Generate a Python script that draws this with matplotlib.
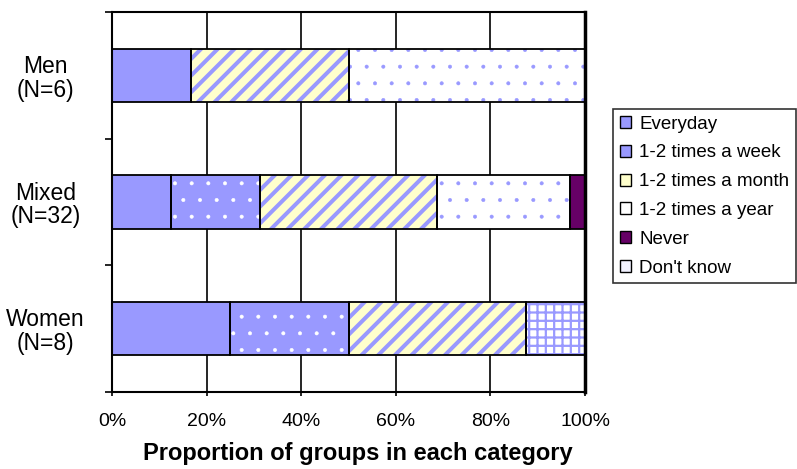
import matplotlib
matplotlib.use('Agg')
import matplotlib.pyplot as plt
from matplotlib.patches import Patch
import numpy as np

plt.rcParams['font.family'] = ['Liberation Sans', 'DejaVu Sans']

groups = ['Men\n(N=6)', 'Mixed\n(N=32)', 'Women\n(N=8)']
categories = ['Everyday', '1-2 times a week', '1-2 times a month',
              '1-2 times a year', 'Never', "Don't know"]

# percent of groups per category, rows follow `groups`
everyday = [16.7, 12.5, 25.0]
weekly = [0.0, 18.75, 25.0]
monthly = [33.3, 37.5, 37.5]
yearly = [50.0, 28.125, 0.0]
never = [0.0, 3.125, 0.0]
dont_know = [0.0, 0.0, 12.5]
series = [everyday, weekly, monthly, yearly, never, dont_know]

xticks = [0, 20, 40, 60, 80, 100]

blue = '#9999FF'
# face, hatch, hatch colour, hatch linewidth
styles = [
	(blue, None, blue, 1.0),
	(blue, '.', 'white', 0.4),
	('#FFFFCC', '//', blue, 2.9),
	('white', '.', blue, 0.4),
	('#660066', None, '#660066', 1.0),
	('white', '++', blue, 1.6),
]

fig = plt.figure(figsize=(7.97, 4.69), dpi=100)
ax = fig.add_axes([112/797, 77/469, 473/797, 380/469])

y = np.array([2, 1, 0])
bar_h = 0.42
left = np.zeros(len(groups))
for vals, (face, hatch, hcol, hlw) in zip(series, styles):
	vals = np.array(vals)
	with plt.rc_context({'hatch.linewidth': hlw}):
		bars = ax.barh(y, vals, left=left, height=bar_h, color=face,
		               hatch=hatch, edgecolor=hcol, linewidth=0, zorder=2)
		for b in bars:
			if hasattr(b, 'set_hatch_linewidth'):
				b.set_hatch_linewidth(hlw)
	ax.barh(y, vals, left=left, height=bar_h, fill=False,
	        edgecolor='black', linewidth=1.3, zorder=3)
	left += vals

ax.set_xlim(0, 100)
ax.set_ylim(-0.5, 2.5)

# vertical gridlines
for xv in xticks[1:-1]:
	ax.axvline(xv, color='black', linewidth=1.2, zorder=1)

ax.set_xticks(xticks)
ax.set_xticklabels([f'{v}%' for v in xticks], fontsize=14)
ax.tick_params(axis='x', length=3, width=1.2, pad=12)

ax.set_yticks(y)
ax.set_yticklabels(groups, fontsize=16.5, linespacing=1.05, ha='center')
ax.tick_params(axis='y', which='major', length=0, pad=48)
ax.set_yticks([-0.5, 0.5, 1.5, 2.5], minor=True)
ax.tick_params(axis='y', which='minor', length=5, width=1.2)

for side in ['left', 'bottom', 'top']:
	ax.spines[side].set_linewidth(1.5)
ax.spines['right'].set_linewidth(2.5)

ax.set_xlabel('Proportion of groups in each category', fontsize=17,
              fontweight='bold', va='center')
ax.xaxis.set_label_coords((358 - 112) / 473, (392 - 453) / 380)

handle_faces = [blue, blue, '#FFFFCC', 'white', '#660066', '#F2F2FF']
handles = [Patch(facecolor=c, edgecolor='black', linewidth=1.0) for c in handle_faces]
leg = fig.legend(handles, categories, loc='upper left',
                 bbox_to_anchor=(613/797, 1 - 109/469), fontsize=13.5,
                 frameon=True, fancybox=False, edgecolor='black',
                 handlelength=0.6, handleheight=0.6, handletextpad=0.45,
                 labelspacing=0.63, borderpad=0.35, borderaxespad=0)
leg.get_frame().set_linewidth(1.2)

fig.savefig('out.png', dpi=100)
